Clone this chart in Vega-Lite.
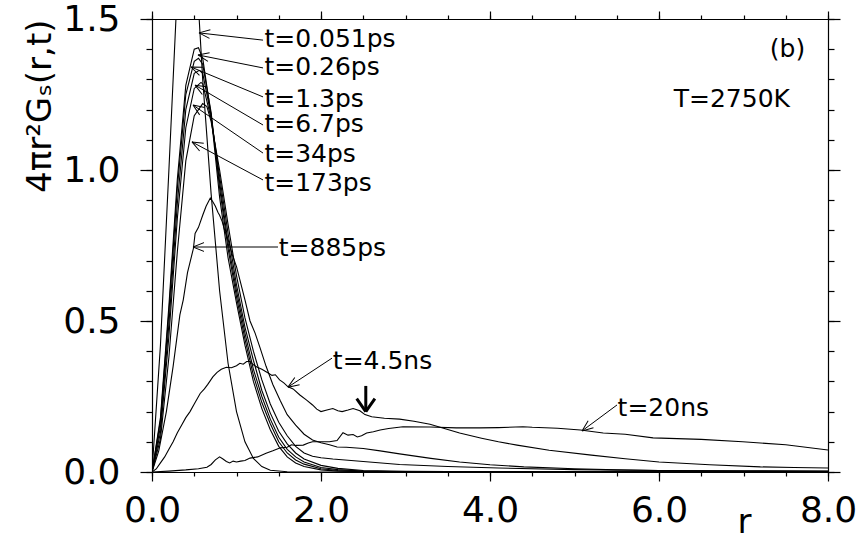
{
  "$schema": "https://vega.github.io/schema/vega-lite/v6.json",
  "autosize": {"type": "none"},
  "padding": {"left": 152, "top": 19, "right": 34, "bottom": 70},
  "width": 676,
  "height": 453,
  "background": "white",
  "config": {
    "view": {"stroke": null},
    "axis": {"domainColor": "black", "tickColor": "black", "labelColor": "black", "titleColor": "black", "grid": false, "labelFont": "DejaVu Sans", "titleFont": "DejaVu Sans", "titleFontWeight": "normal", "domainWidth": 1.2, "tickWidth": 1.2}
  },
  "datasets": {
    "curves": [
      {"t":"0.051ps","r":0,"y":0},{"t":"0.051ps","r":0.1,"y":0.42},{"t":"0.051ps","r":0.2,"y":1.0},{"t":"0.051ps","r":0.3,"y":1.6},{"t":"0.051ps","r":0.4,"y":2.15},{"t":"0.051ps","r":0.5,"y":1.78},{"t":"0.051ps","r":0.6,"y":1.3},{"t":"0.051ps","r":0.7,"y":0.92},{"t":"0.051ps","r":0.8,"y":0.6},{"t":"0.051ps","r":0.9,"y":0.36},{"t":"0.051ps","r":1.0,"y":0.2},{"t":"0.051ps","r":1.1,"y":0.1},{"t":"0.051ps","r":1.2,"y":0.045},{"t":"0.051ps","r":1.3,"y":0.018},{"t":"0.051ps","r":1.4,"y":0.006},{"t":"0.051ps","r":1.6,"y":0.001},{"t":"0.051ps","r":2.0,"y":0},{"t":"0.051ps","r":8.0,"y":0},
      {"t":"0.26ps","r":0,"y":0},{"t":"0.26ps","r":0.1,"y":0.18},{"t":"0.26ps","r":0.2,"y":0.55},{"t":"0.26ps","r":0.3,"y":0.97},{"t":"0.26ps","r":0.4,"y":1.28},{"t":"0.26ps","r":0.5,"y":1.4},{"t":"0.26ps","r":0.55,"y":1.405},{"t":"0.26ps","r":0.6,"y":1.37},{"t":"0.26ps","r":0.7,"y":1.18},{"t":"0.26ps","r":0.8,"y":0.91},{"t":"0.26ps","r":0.9,"y":0.71},{"t":"0.26ps","r":1.0,"y":0.56},{"t":"0.26ps","r":1.1,"y":0.42},{"t":"0.26ps","r":1.2,"y":0.3},{"t":"0.26ps","r":1.3,"y":0.21},{"t":"0.26ps","r":1.4,"y":0.14},{"t":"0.26ps","r":1.5,"y":0.085},{"t":"0.26ps","r":1.6,"y":0.05},{"t":"0.26ps","r":1.7,"y":0.03},{"t":"0.26ps","r":1.8,"y":0.018},{"t":"0.26ps","r":2.0,"y":0.007},{"t":"0.26ps","r":2.2,"y":0.003},{"t":"0.26ps","r":2.5,"y":0.001},{"t":"0.26ps","r":3.0,"y":0},{"t":"0.26ps","r":8.0,"y":0},
      {"t":"1.3ps","r":0,"y":0},{"t":"1.3ps","r":0.1,"y":0.17},{"t":"1.3ps","r":0.2,"y":0.53},{"t":"1.3ps","r":0.3,"y":0.94},{"t":"1.3ps","r":0.4,"y":1.25},{"t":"1.3ps","r":0.5,"y":1.36},{"t":"1.3ps","r":0.55,"y":1.37},{"t":"1.3ps","r":0.6,"y":1.35},{"t":"1.3ps","r":0.7,"y":1.19},{"t":"1.3ps","r":0.8,"y":0.94},{"t":"1.3ps","r":0.9,"y":0.74},{"t":"1.3ps","r":1.0,"y":0.58},{"t":"1.3ps","r":1.1,"y":0.44},{"t":"1.3ps","r":1.2,"y":0.32},{"t":"1.3ps","r":1.3,"y":0.23},{"t":"1.3ps","r":1.4,"y":0.16},{"t":"1.3ps","r":1.5,"y":0.1},{"t":"1.3ps","r":1.6,"y":0.063},{"t":"1.3ps","r":1.7,"y":0.04},{"t":"1.3ps","r":1.8,"y":0.026},{"t":"1.3ps","r":2.0,"y":0.011},{"t":"1.3ps","r":2.2,"y":0.005},{"t":"1.3ps","r":2.5,"y":0.002},{"t":"1.3ps","r":3.0,"y":0.0005},{"t":"1.3ps","r":8.0,"y":0},
      {"t":"6.7ps","r":0,"y":0},{"t":"6.7ps","r":0.1,"y":0.15},{"t":"6.7ps","r":0.2,"y":0.49},{"t":"6.7ps","r":0.3,"y":0.89},{"t":"6.7ps","r":0.4,"y":1.2},{"t":"6.7ps","r":0.5,"y":1.32},{"t":"6.7ps","r":0.56,"y":1.33},{"t":"6.7ps","r":0.6,"y":1.32},{"t":"6.7ps","r":0.7,"y":1.18},{"t":"6.7ps","r":0.8,"y":0.96},{"t":"6.7ps","r":0.9,"y":0.76},{"t":"6.7ps","r":1.0,"y":0.6},{"t":"6.7ps","r":1.1,"y":0.46},{"t":"6.7ps","r":1.2,"y":0.34},{"t":"6.7ps","r":1.3,"y":0.25},{"t":"6.7ps","r":1.4,"y":0.175},{"t":"6.7ps","r":1.5,"y":0.115},{"t":"6.7ps","r":1.6,"y":0.075},{"t":"6.7ps","r":1.7,"y":0.05},{"t":"6.7ps","r":1.8,"y":0.033},{"t":"6.7ps","r":2.0,"y":0.015},{"t":"6.7ps","r":2.2,"y":0.008},{"t":"6.7ps","r":2.5,"y":0.003},{"t":"6.7ps","r":3.0,"y":0.001},{"t":"6.7ps","r":8.0,"y":0},
      {"t":"34ps","r":0,"y":0},{"t":"34ps","r":0.1,"y":0.13},{"t":"34ps","r":0.2,"y":0.45},{"t":"34ps","r":0.3,"y":0.84},{"t":"34ps","r":0.4,"y":1.14},{"t":"34ps","r":0.5,"y":1.27},{"t":"34ps","r":0.58,"y":1.29},{"t":"34ps","r":0.6,"y":1.285},{"t":"34ps","r":0.7,"y":1.17},{"t":"34ps","r":0.8,"y":0.98},{"t":"34ps","r":0.9,"y":0.79},{"t":"34ps","r":1.0,"y":0.62},{"t":"34ps","r":1.1,"y":0.48},{"t":"34ps","r":1.2,"y":0.37},{"t":"34ps","r":1.3,"y":0.27},{"t":"34ps","r":1.4,"y":0.195},{"t":"34ps","r":1.5,"y":0.135},{"t":"34ps","r":1.6,"y":0.093},{"t":"34ps","r":1.7,"y":0.063},{"t":"34ps","r":1.8,"y":0.043},{"t":"34ps","r":2.0,"y":0.022},{"t":"34ps","r":2.2,"y":0.012},{"t":"34ps","r":2.5,"y":0.005},{"t":"34ps","r":3.0,"y":0.002},{"t":"34ps","r":4.0,"y":0.0005},{"t":"34ps","r":8.0,"y":0},
      {"t":"173ps","r":0,"y":0},{"t":"173ps","r":0.1,"y":0.11},{"t":"173ps","r":0.2,"y":0.38},{"t":"173ps","r":0.3,"y":0.73},{"t":"173ps","r":0.4,"y":1.03},{"t":"173ps","r":0.5,"y":1.18},{"t":"173ps","r":0.6,"y":1.22},{"t":"173ps","r":0.65,"y":1.21},{"t":"173ps","r":0.7,"y":1.16},{"t":"173ps","r":0.8,"y":1.0},{"t":"173ps","r":0.9,"y":0.82},{"t":"173ps","r":1.0,"y":0.65},{"t":"173ps","r":1.1,"y":0.51},{"t":"173ps","r":1.2,"y":0.4},{"t":"173ps","r":1.3,"y":0.305},{"t":"173ps","r":1.4,"y":0.225},{"t":"173ps","r":1.5,"y":0.165},{"t":"173ps","r":1.6,"y":0.12},{"t":"173ps","r":1.7,"y":0.085},{"t":"173ps","r":1.8,"y":0.063},{"t":"173ps","r":1.9,"y":0.052},{"t":"173ps","r":2.0,"y":0.047},{"t":"173ps","r":2.14,"y":0.043},{"t":"173ps","r":2.5,"y":0.035},{"t":"173ps","r":2.93,"y":0.025},{"t":"173ps","r":3.5,"y":0.018},{"t":"173ps","r":4.1,"y":0.013},{"t":"173ps","r":5.0,"y":0.008},{"t":"173ps","r":6.0,"y":0.005},{"t":"173ps","r":7.0,"y":0.004},{"t":"173ps","r":8.0,"y":0.003},
      {"t":"885ps","r":0,"y":0},{"t":"885ps","r":0.08,"y":0.07},{"t":"885ps","r":0.17,"y":0.2},{"t":"885ps","r":0.25,"y":0.35},{"t":"885ps","r":0.33,"y":0.52},{"t":"885ps","r":0.37,"y":0.57},{"t":"885ps","r":0.42,"y":0.66},{"t":"885ps","r":0.49,"y":0.74},{"t":"885ps","r":0.51,"y":0.79},{"t":"885ps","r":0.55,"y":0.81},{"t":"885ps","r":0.6,"y":0.85},{"t":"885ps","r":0.64,"y":0.88},{"t":"885ps","r":0.69,"y":0.907},{"t":"885ps","r":0.72,"y":0.895},{"t":"885ps","r":0.75,"y":0.88},{"t":"885ps","r":0.78,"y":0.86},{"t":"885ps","r":0.8,"y":0.85},{"t":"885ps","r":0.83,"y":0.83},{"t":"885ps","r":0.86,"y":0.8},{"t":"885ps","r":0.9,"y":0.77},{"t":"885ps","r":0.95,"y":0.72},{"t":"885ps","r":1.0,"y":0.68},{"t":"885ps","r":1.04,"y":0.636},{"t":"885ps","r":1.1,"y":0.57},{"t":"885ps","r":1.16,"y":0.5},{"t":"885ps","r":1.22,"y":0.46},{"t":"885ps","r":1.28,"y":0.41},{"t":"885ps","r":1.35,"y":0.35},{"t":"885ps","r":1.43,"y":0.29},{"t":"885ps","r":1.52,"y":0.235},{"t":"885ps","r":1.6,"y":0.19},{"t":"885ps","r":1.7,"y":0.155},{"t":"885ps","r":1.8,"y":0.125},{"t":"885ps","r":1.9,"y":0.106},{"t":"885ps","r":2.0,"y":0.097},{"t":"885ps","r":2.1,"y":0.09},{"t":"885ps","r":2.19,"y":0.083},{"t":"885ps","r":2.3,"y":0.082},{"t":"885ps","r":2.5,"y":0.078},{"t":"885ps","r":2.7,"y":0.07},{"t":"885ps","r":2.93,"y":0.06},{"t":"885ps","r":3.3,"y":0.045},{"t":"885ps","r":3.64,"y":0.033},{"t":"885ps","r":4.0,"y":0.024},{"t":"885ps","r":4.4,"y":0.017},{"t":"885ps","r":5.0,"y":0.011},{"t":"885ps","r":5.5,"y":0.007},{"t":"885ps","r":6.0,"y":0.005},{"t":"885ps","r":7.0,"y":0.003},{"t":"885ps","r":8.0,"y":0.002},
      {"t":"4.5ns","r":0,"y":0},{"t":"4.5ns","r":0.05,"y":0.01},{"t":"4.5ns","r":0.1,"y":0.03},{"t":"4.5ns","r":0.15,"y":0.05},{"t":"4.5ns","r":0.2,"y":0.075},{"t":"4.5ns","r":0.25,"y":0.1},{"t":"4.5ns","r":0.3,"y":0.13},{"t":"4.5ns","r":0.35,"y":0.155},{"t":"4.5ns","r":0.4,"y":0.18},{"t":"4.5ns","r":0.45,"y":0.2},{"t":"4.5ns","r":0.5,"y":0.225},{"t":"4.5ns","r":0.57,"y":0.26},{"t":"4.5ns","r":0.62,"y":0.275},{"t":"4.5ns","r":0.66,"y":0.29},{"t":"4.5ns","r":0.72,"y":0.315},{"t":"4.5ns","r":0.77,"y":0.33},{"t":"4.5ns","r":0.82,"y":0.34},{"t":"4.5ns","r":0.88,"y":0.347},{"t":"4.5ns","r":0.94,"y":0.345},{"t":"4.5ns","r":1.0,"y":0.352},{"t":"4.5ns","r":1.04,"y":0.36},{"t":"4.5ns","r":1.08,"y":0.357},{"t":"4.5ns","r":1.12,"y":0.366},{"t":"4.5ns","r":1.16,"y":0.366},{"t":"4.5ns","r":1.2,"y":0.355},{"t":"4.5ns","r":1.24,"y":0.348},{"t":"4.5ns","r":1.3,"y":0.34},{"t":"4.5ns","r":1.36,"y":0.33},{"t":"4.5ns","r":1.42,"y":0.32},{"t":"4.5ns","r":1.46,"y":0.322},{"t":"4.5ns","r":1.51,"y":0.305},{"t":"4.5ns","r":1.56,"y":0.295},{"t":"4.5ns","r":1.61,"y":0.282},{"t":"4.5ns","r":1.67,"y":0.275},{"t":"4.5ns","r":1.75,"y":0.255},{"t":"4.5ns","r":1.83,"y":0.238},{"t":"4.5ns","r":1.9,"y":0.222},{"t":"4.5ns","r":1.95,"y":0.208},{"t":"4.5ns","r":2.0,"y":0.2},{"t":"4.5ns","r":2.07,"y":0.205},{"t":"4.5ns","r":2.14,"y":0.21},{"t":"4.5ns","r":2.2,"y":0.203},{"t":"4.5ns","r":2.25,"y":0.2},{"t":"4.5ns","r":2.32,"y":0.205},{"t":"4.5ns","r":2.38,"y":0.21},{"t":"4.5ns","r":2.46,"y":0.203},{"t":"4.5ns","r":2.52,"y":0.19},{"t":"4.5ns","r":2.6,"y":0.183},{"t":"4.5ns","r":2.75,"y":0.178},{"t":"4.5ns","r":2.93,"y":0.175},{"t":"4.5ns","r":3.1,"y":0.168},{"t":"4.5ns","r":3.29,"y":0.158},{"t":"4.5ns","r":3.45,"y":0.145},{"t":"4.5ns","r":3.64,"y":0.129},{"t":"4.5ns","r":3.9,"y":0.112},{"t":"4.5ns","r":4.1,"y":0.1},{"t":"4.5ns","r":4.32,"y":0.089},{"t":"4.5ns","r":4.7,"y":0.072},{"t":"4.5ns","r":5.2,"y":0.056},{"t":"4.5ns","r":5.6,"y":0.044},{"t":"4.5ns","r":6.0,"y":0.033},{"t":"4.5ns","r":6.6,"y":0.024},{"t":"4.5ns","r":7.2,"y":0.017},{"t":"4.5ns","r":7.6,"y":0.015},{"t":"4.5ns","r":8.0,"y":0.013},
      {"t":"20ns","r":0,"y":0},{"t":"20ns","r":0.2,"y":0.003},{"t":"20ns","r":0.4,"y":0.007},{"t":"20ns","r":0.55,"y":0.011},{"t":"20ns","r":0.65,"y":0.016},{"t":"20ns","r":0.7,"y":0.025},{"t":"20ns","r":0.75,"y":0.04},{"t":"20ns","r":0.8,"y":0.05},{"t":"20ns","r":0.84,"y":0.043},{"t":"20ns","r":0.88,"y":0.035},{"t":"20ns","r":0.92,"y":0.03},{"t":"20ns","r":0.96,"y":0.036},{"t":"20ns","r":1.0,"y":0.033},{"t":"20ns","r":1.05,"y":0.036},{"t":"20ns","r":1.1,"y":0.038},{"t":"20ns","r":1.16,"y":0.046},{"t":"20ns","r":1.25,"y":0.05},{"t":"20ns","r":1.35,"y":0.062},{"t":"20ns","r":1.43,"y":0.07},{"t":"20ns","r":1.52,"y":0.08},{"t":"20ns","r":1.6,"y":0.082},{"t":"20ns","r":1.65,"y":0.09},{"t":"20ns","r":1.7,"y":0.088},{"t":"20ns","r":1.79,"y":0.089},{"t":"20ns","r":1.85,"y":0.096},{"t":"20ns","r":1.9,"y":0.1},{"t":"20ns","r":1.99,"y":0.1},{"t":"20ns","r":2.1,"y":0.1},{"t":"20ns","r":2.19,"y":0.104},{"t":"20ns","r":2.26,"y":0.13},{"t":"20ns","r":2.32,"y":0.122},{"t":"20ns","r":2.38,"y":0.124},{"t":"20ns","r":2.43,"y":0.116},{"t":"20ns","r":2.48,"y":0.12},{"t":"20ns","r":2.54,"y":0.129},{"t":"20ns","r":2.62,"y":0.133},{"t":"20ns","r":2.7,"y":0.139},{"t":"20ns","r":2.8,"y":0.144},{"t":"20ns","r":2.97,"y":0.15},{"t":"20ns","r":3.29,"y":0.149},{"t":"20ns","r":3.6,"y":0.146},{"t":"20ns","r":3.88,"y":0.146},{"t":"20ns","r":4.1,"y":0.147},{"t":"20ns","r":4.39,"y":0.15},{"t":"20ns","r":4.5,"y":0.148},{"t":"20ns","r":4.8,"y":0.145},{"t":"20ns","r":5.07,"y":0.139},{"t":"20ns","r":5.34,"y":0.129},{"t":"20ns","r":5.6,"y":0.125},{"t":"20ns","r":5.93,"y":0.113},{"t":"20ns","r":6.5,"y":0.108},{"t":"20ns","r":6.99,"y":0.1},{"t":"20ns","r":7.5,"y":0.09},{"t":"20ns","r":8.0,"y":0.073}
    ],
    "labels": [
      {"text":"t=0.051ps","x":1.33,"y":1.434},
      {"text":"t=0.26ps","x":1.33,"y":1.341},
      {"text":"t=1.3ps","x":1.33,"y":1.235},
      {"text":"t=6.7ps","x":1.33,"y":1.152},
      {"text":"t=34ps","x":1.33,"y":1.053},
      {"text":"t=173ps","x":1.33,"y":0.957},
      {"text":"t=885ps","x":1.5,"y":0.742},
      {"text":"t=4.5ns","x":2.14,"y":0.368},
      {"text":"t=20ns","x":5.51,"y":0.212}
    ],
    "arrows": [
      {"label":"0.051ps","x":1.314,"y":1.43,"x2":0.556,"y2":1.454,"dir":186},
      {"label":"0.26ps","x":1.314,"y":1.338,"x2":0.544,"y2":1.381,"dir":191},
      {"label":"1.3ps","x":1.314,"y":1.242,"x2":0.462,"y2":1.341,"dir":203},
      {"label":"6.7ps","x":1.314,"y":1.149,"x2":0.509,"y2":1.281,"dir":210},
      {"label":"34ps","x":1.314,"y":1.056,"x2":0.485,"y2":1.215,"dir":214},
      {"label":"173ps","x":1.314,"y":0.967,"x2":0.473,"y2":1.093,"dir":208},
      {"label":"885ps","x":1.491,"y":0.745,"x2":0.485,"y2":0.745,"dir":180},
      {"label":"4.5ns","x":2.13,"y":0.377,"x2":1.609,"y2":0.281,"dir":147},
      {"label":"20ns","x":5.503,"y":0.222,"x2":5.089,"y2":0.136,"dir":143}
    ],
    "marker": [
      {"x":2.53,"y":0.285,"y2":0.2,"dir":90}
    ],
    "corner": [
      {"text":"(b)","x":7.73,"y":1.4},
      {"text":"T=2750K","x":7.55,"y":1.235}
    ]
  },
  "resolve": {"scale": {"x": "shared", "y": "shared"}, "axis": {"x": "independent", "y": "independent"}},
  "layer": [
    {
      "data": {"name": "curves"},
      "mark": {"type": "line", "clip": true, "color": "black", "strokeWidth": 1.1},
      "encoding": {
        "x": {"field": "r", "type": "quantitative", "scale": {"domain": [0, 8], "nice": false, "zero": false},
          "axis": {"orient": "bottom", "values": [0, 2, 4, 6, 8], "format": ".1f", "tickSize": 9, "labelFontSize": 36, "labelPadding": 12, "labelFlush": false, "labelOverlap": false, "labelBound": false,
            "title": "r", "titleFontSize": 34, "titleX": 592, "titleY": 60, "titleAlign": "center", "titleBaseline": "alphabetic"}},
        "y": {"field": "y", "type": "quantitative", "scale": {"domain": [0, 1.5], "nice": false, "zero": false},
          "axis": {"orient": "left", "values": [0, 0.5, 1, 1.5], "format": ".1f", "tickSize": 12, "labelFontSize": 36, "labelPadding": 20, "labelFlush": false, "labelOverlap": false, "labelBound": false,
            "title": "4πr²Gₛ(r,t)", "titleFontSize": 34, "titleX": -102, "titleY": 0, "titleAngle": -90, "titleAlign": "right", "titleBaseline": "alphabetic"}},
        "detail": {"field": "t", "type": "nominal"}
      }
    },
    {
      "data": {"name": "arrows"},
      "mark": {"type": "rule", "color": "black", "strokeWidth": 1},
      "encoding": {
        "x": {"field": "x", "type": "quantitative", "scale": {"domain": [0, 8], "nice": false, "zero": false},
          "axis": {"orient": "bottom", "values": [0,0.5,1,1.5,2,2.5,3,3.5,4,4.5,5,5.5,6,6.5,7,7.5,8], "tickSize": 4, "labels": false, "domain": false, "title": null}},
        "y": {"field": "y", "type": "quantitative", "scale": {"domain": [0, 1.5], "nice": false, "zero": false},
          "axis": {"orient": "left", "values": [0,0.1,0.2,0.3,0.4,0.5,0.6,0.7,0.8,0.9,1,1.1,1.2,1.3,1.4,1.5], "tickSize": 6, "labels": false, "domain": false, "title": null}},
        "x2": {"field": "x2"},
        "y2": {"field": "y2"}
      }
    },
    {
      "data": {"name": "labels"},
      "mark": {"type": "text", "font": "DejaVu Sans", "fontSize": 25, "align": "left", "baseline": "middle", "color": "black"},
      "encoding": {
        "x": {"field": "x", "type": "quantitative", "scale": {"domain": [0, 8], "nice": false, "zero": false},
          "axis": {"orient": "top", "values": [0, 2, 4, 6, 8], "tickSize": 8, "labels": false, "domain": true, "title": null}},
        "y": {"field": "y", "type": "quantitative", "scale": {"domain": [0, 1.5], "nice": false, "zero": false},
          "axis": {"orient": "right", "values": [0, 0.5, 1, 1.5], "tickSize": 12, "labels": false, "domain": true, "title": null}},
        "text": {"field": "text", "type": "nominal"}
      }
    },
    {
      "data": {"name": "arrows"},
      "mark": {"type": "point", "shape": "M0,0L-1,-0.4M0,0L-1,0.4", "filled": false, "size": 484, "color": "black", "strokeWidth": 1, "opacity": 1},
      "encoding": {
        "x": {"field": "x2", "type": "quantitative", "scale": {"domain": [0, 8], "nice": false, "zero": false},
          "axis": {"orient": "top", "values": [0,0.5,1,1.5,2,2.5,3,3.5,4,4.5,5,5.5,6,6.5,7,7.5,8], "tickSize": 4, "labels": false, "domain": false, "title": null}},
        "y": {"field": "y2", "type": "quantitative", "scale": {"domain": [0, 1.5], "nice": false, "zero": false},
          "axis": {"orient": "right", "values": [0,0.1,0.2,0.3,0.4,0.5,0.6,0.7,0.8,0.9,1,1.1,1.2,1.3,1.4,1.5], "tickSize": 6, "labels": false, "domain": false, "title": null}},
        "angle": {"field": "dir", "type": "quantitative", "scale": null}
      }
    },
    {
      "data": {"name": "marker"},
      "mark": {"type": "rule", "color": "black", "strokeWidth": 3},
      "encoding": {
        "x": {"field": "x", "type": "quantitative", "axis": null},
        "y": {"field": "y", "type": "quantitative", "axis": null},
        "y2": {"field": "y2"}
      }
    },
    {
      "data": {"name": "marker"},
      "mark": {"type": "point", "shape": "M0,0L-1,-0.7M0,0L-1,0.7", "filled": false, "size": 676, "color": "black", "strokeWidth": 3, "opacity": 1},
      "encoding": {
        "x": {"field": "x", "type": "quantitative", "axis": null},
        "y": {"field": "y2", "type": "quantitative", "axis": null},
        "angle": {"field": "dir", "type": "quantitative", "scale": null}
      }
    },
    {
      "data": {"name": "corner"},
      "mark": {"type": "text", "font": "DejaVu Sans", "fontSize": 25, "align": "right", "baseline": "middle", "color": "black"},
      "encoding": {
        "x": {"field": "x", "type": "quantitative", "axis": null},
        "y": {"field": "y", "type": "quantitative", "axis": null},
        "text": {"field": "text", "type": "nominal"}
      }
    }
  ]
}
